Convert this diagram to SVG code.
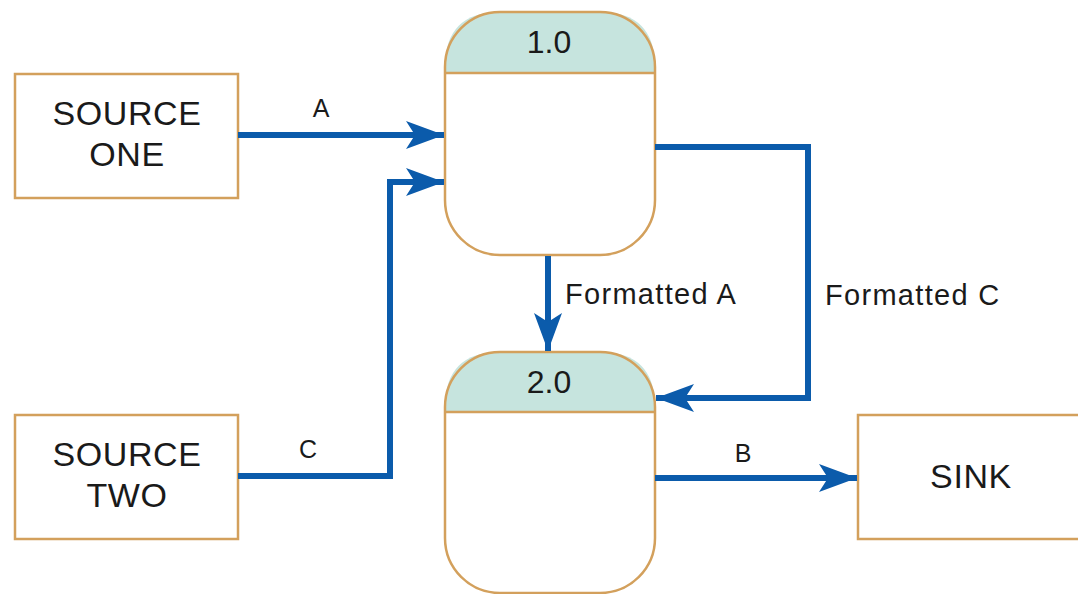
<svg xmlns="http://www.w3.org/2000/svg" width="1078" height="594" viewBox="0 0 1078 594">
<defs>
<style>
.box{fill:#fff;stroke:#d3a05c;stroke-width:2.5}
.hdr{fill:#c6e4de}
.line{fill:none;stroke:#0b5bab;stroke-width:6}
.t{font-family:"Liberation Sans",Arial,sans-serif;fill:#1a1a1a}
.big{font-size:34px;text-anchor:middle;letter-spacing:0.6px}
.lbl{font-size:29px;letter-spacing:1.3px}
.let{font-size:25px;text-anchor:middle}
.num{font-size:32px;text-anchor:middle}
</style>
<marker id="ah" viewBox="0 0 38 28" refX="38" refY="14" markerWidth="38" markerHeight="28" markerUnits="userSpaceOnUse" orient="auto">
<path d="M0,0 L38,14 L0,28 L9,14 Z" fill="#0b5bab"/>
</marker>
</defs>
<rect width="1078" height="594" fill="#fff"/>
<g id="source-one">
<rect class="box" x="15" y="74" width="223" height="124"/>
<text class="t big" x="127" y="125">SOURCE</text>
<text class="t big" x="127" y="166">ONE</text>
</g>
<g id="source-two">
<rect class="box" x="15" y="415" width="223" height="124"/>
<text class="t big" x="127" y="466">SOURCE</text>
<text class="t big" x="127" y="507">TWO</text>
</g>
<g id="sink">
<rect class="box" x="858" y="415" width="240" height="124"/>
<text class="t big" x="971" y="488">SINK</text>
</g>
<g id="process-1">
<path class="hdr" d="M445,73 L445,67 Q445,12 500,12 L600,12 Q655,12 655,67 L655,73 Z"/>
<rect class="box" x="445" y="12" width="210" height="243" rx="55" ry="55" style="fill:none"/>
<line x1="445" y1="73" x2="655" y2="73" stroke="#d3a05c" stroke-width="2.5"/>
<text class="t num" x="549" y="53">1.0</text>
</g>
<g id="process-2">
<path class="hdr" d="M445,412 L445,407 Q445,352 500,352 L600,352 Q655,352 655,407 L655,412 Z"/>
<rect class="box" x="445" y="352" width="210" height="241" rx="55" ry="55" style="fill:none"/>
<line x1="445" y1="412" x2="655" y2="412" stroke="#d3a05c" stroke-width="2.5"/>
<text class="t num" x="549" y="393">2.0</text>
</g>
<g id="connectors">
<path class="line" d="M238,135 L444,135" marker-end="url(#ah)"/>
<path class="line" d="M238,476 L390,476 L390,182 L444,182" marker-end="url(#ah)"/>
<path class="line" d="M548,256 L548,351" marker-end="url(#ah)"/>
<path class="line" d="M655,147 L808,147 L808,398 L656,398" marker-end="url(#ah)"/>
<path class="line" d="M655,478 L857,478" marker-end="url(#ah)"/>
<text class="t let" x="321" y="117">A</text>
<text class="t let" x="308" y="458">C</text>
<text class="t lbl" x="565" y="304">Formatted A</text>
<text class="t lbl" x="825" y="305">Formatted C</text>
<text class="t let" x="743" y="462">B</text>
</g>
</svg>
